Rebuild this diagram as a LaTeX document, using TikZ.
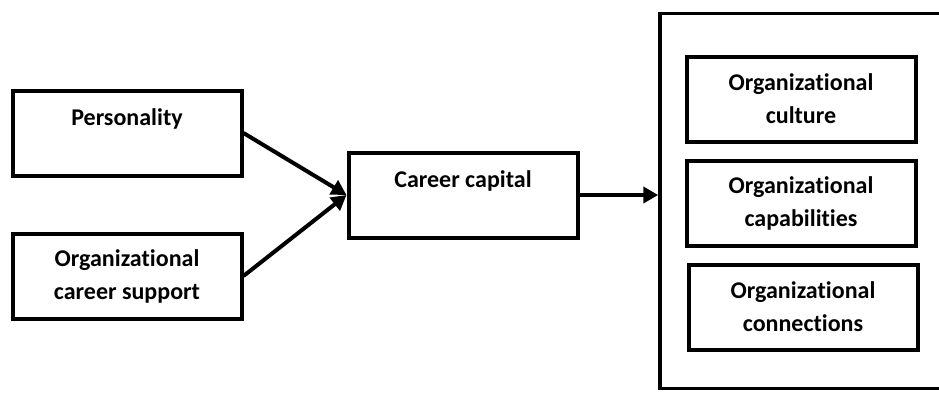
\documentclass[tikz,border=0pt]{standalone}
\usepackage{fontspec}
\setmainfont{Carlito}[Ligatures=NoCommon]
\usetikzlibrary{arrows.meta}
\begin{document}
\begin{tikzpicture}[x=1pt,y=-1pt,
	box/.style={draw,line width=4pt,inner sep=0pt,minimum width=229pt,minimum height=85pt,align=center,font=\fontsize{24}{33}\selectfont\bfseries},
	topbox/.style={box,text height=35pt,text depth=50pt},
	arr/.style={line width=4pt,-{Triangle[length=15pt,width=16pt]}}]
	\useasboundingbox (0,0) rectangle (939,394);
	\node[topbox] (pers) at (127,133) {Personality};
	\node[box] (supp) at (127,276) {Organizational\\career support};
	\node[topbox] (cap) at (463,195) {Career capital};
	\node[draw,line width=3.5pt,inner sep=0pt,minimum width=400pt,minimum height=375pt] (outer) at (860,201) {};
	\node[box] (cult) at (801,99) {Organizational\\culture};
	\node[box] (capab) at (801,203) {Organizational\\capabilities};
	\node[box] (conn) at (803,307) {Organizational\\connections};
	\draw[arr] (pers.east) -- (cap.west);
	\draw[arr] (supp.east) -- (cap.west);
	\draw[arr] (cap.east) -- (cap.east -| outer.west);
\end{tikzpicture}
\end{document}
